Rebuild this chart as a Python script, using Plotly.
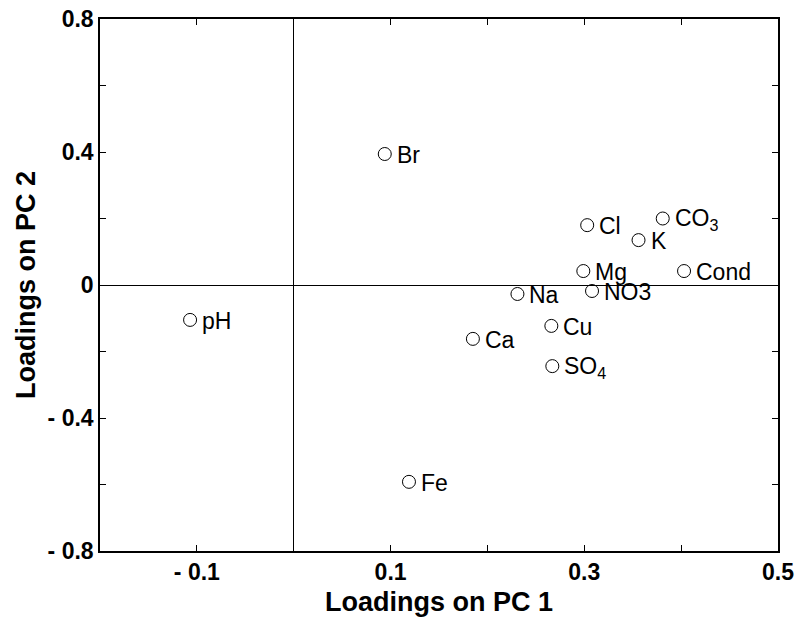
import plotly.graph_objects as go

labels = ["Br", "pH", "Fe", "Cl", "K", "CO<sub>3</sub>", "Mg", "Cond", "NO3", "Na", "Cu", "Ca", "SO<sub>4</sub>"]
pc1 = [0.094, -0.107, 0.119, 0.303, 0.356, 0.381, 0.299, 0.403, 0.308, 0.231, 0.266, 0.185, 0.267]
pc2 = [0.394, -0.105, -0.592, 0.180, 0.135, 0.200, 0.042, 0.042, -0.018, -0.027, -0.123, -0.162, -0.244]

x_tickvals = [-0.2, -0.1, 0.0, 0.1, 0.2, 0.3, 0.4, 0.5]
x_ticktext = ["", "- 0.1", "", "0.1", "", "0.3", "", "0.5"]
y_tickvals = [-0.8, -0.6, -0.4, -0.2, 0.0, 0.2, 0.4, 0.6, 0.8]
y_ticktext = ["- 0.8", "", "- 0.4", "", "0", "", "0.4", "", "0.8"]

font_fam = "Liberation Sans, Arial, sans-serif"

fig = go.Figure()
fig.add_trace(go.Scatter(
    x=pc1, y=pc2, mode="markers",
    marker=dict(symbol="circle-open", size=13, color="black", line=dict(width=1, color="black")),
    cliponaxis=False, showlegend=False,
))

for lab, xv, yv in zip(labels, pc1, pc2):
    fig.add_annotation(x=xv, y=yv, xref="x", yref="y", text=lab, showarrow=False,
                       xanchor="left", yanchor="middle", xshift=10, yshift=-1,
                       font=dict(family=font_fam, size=23, color="black"))

axis_common = dict(
    showgrid=False, showline=True, linecolor="black", linewidth=1.5, mirror="ticks",
    ticks="inside", ticklen=6, tickcolor="black", tickwidth=1,
    zeroline=True, zerolinecolor="black", zerolinewidth=1,
    tickfont=dict(family=font_fam, size=23, color="black", weight="bold"),
    tickmode="array", automargin=False,
)

fig.update_xaxes(range=[-0.2, 0.5], tickvals=x_tickvals, ticktext=x_ticktext,
                 title=dict(text="Loadings on PC 1", font=dict(family=font_fam, size=27, color="black", weight="bold"), standoff=8),
                 **axis_common)
fig.update_yaxes(range=[-0.8, 0.8], tickvals=y_tickvals, ticktext=y_ticktext,
                 title=dict(text="Loadings on PC 2", font=dict(family=font_fam, size=27, color="black", weight="bold"), standoff=4),
                 **axis_common)

fig.update_layout(
    width=803, height=624,
    margin=dict(l=100, r=25, t=19, b=73),
    paper_bgcolor="white", plot_bgcolor="white",
)

fig.write_html("out.html")
